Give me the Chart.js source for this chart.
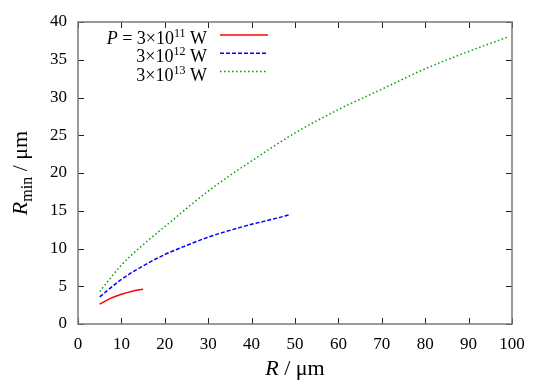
<!DOCTYPE html>
<html>
<head>
<meta charset="utf-8">
<script src="https://cdn.jsdelivr.net/npm/chart.js@4.4.0/dist/chart.umd.min.js"></script>
<style>
    html, body { margin: 0; padding: 0; background: #fff; }
</style>
</head>
<body>
<canvas id="chart" width="545" height="382"></canvas>
<script>
// R (µm) vs R_min (µm) for three laser powers
const rRed = [5, 7.5, 10, 12.5, 15];
const rminRed = [2.65, 3.4, 3.95, 4.35, 4.6];
const rBlue = [5, 10, 15, 20, 25, 30, 35, 40, 45, 49];
const rminBlue = [3.6, 5.9, 7.7, 9.2, 10.4, 11.5, 12.4, 13.2, 13.9, 14.5];
const rGreen = [5, 10, 15, 20, 30, 40, 50, 60, 70, 80, 90, 99];
const rminGreen = [4.3, 7.8, 10.5, 12.9, 17.6, 21.6, 25.3, 28.4, 31.1, 33.8, 36.1, 38.0];
const powerExponents = ['11', '12', '13'];
const xTickValues = [0, 10, 20, 30, 40, 50, 60, 70, 80, 90, 100];
const yTickValues = [0, 5, 10, 15, 20, 25, 30, 35, 40];

const SERIF = '"Liberation Serif", "DejaVu Serif", serif';

function toPoints(xs, ys) {
    return xs.map((x, i) => ({ x: x, y: ys[i] }));
}

function drawRich(ctx, parts, x, y, align) {
    let total = 0;
    parts.forEach(p => {
        ctx.font = p.font;
        p.w = ctx.measureText(p.text).width;
        total += p.w;
    });
    let cx = align === 'right' ? x - total : (align === 'center' ? x - total / 2 : x);
    parts.forEach(p => {
        ctx.font = p.font;
        ctx.fillText(p.text, cx, y + (p.dy || 0));
        cx += p.w;
    });
}

// frame with inward ticks on all four sides, axis titles, legend
const decorPlugin = {
    id: 'decor',
    afterDatasetsDraw(chart) {
        const ctx = chart.ctx;
        const area = chart.chartArea;
        const xs = chart.scales.x;
        const ys = chart.scales.y;
        const tickLen = 6;

        ctx.save();
        ctx.strokeStyle = '#222';
        ctx.lineWidth = 1;
        ctx.beginPath();
        xTickValues.forEach(v => {
            const px = Math.round(xs.getPixelForValue(v)) + 0.5;
            ctx.moveTo(px, area.bottom);
            ctx.lineTo(px, area.bottom - tickLen);
            ctx.moveTo(px, area.top);
            ctx.lineTo(px, area.top + tickLen);
        });
        yTickValues.forEach(v => {
            const py = Math.round(ys.getPixelForValue(v)) + 0.5;
            ctx.moveTo(area.left, py);
            ctx.lineTo(area.left + tickLen, py);
            ctx.moveTo(area.right, py);
            ctx.lineTo(area.right - tickLen, py);
        });
        ctx.stroke();

        ctx.strokeStyle = '#7a7a7a';
        ctx.lineWidth = 1.5;
        ctx.strokeRect(area.left, area.top, area.right - area.left, area.bottom - area.top);

        // axis titles
        ctx.fillStyle = '#000';
        ctx.textBaseline = 'alphabetic';
        drawRich(ctx, [
            { text: 'R', font: 'italic 22px ' + SERIF },
            { text: ' / μm', font: '22px ' + SERIF }
        ], (area.left + area.right) / 2, 375, 'center');

        ctx.save();
        ctx.translate(27, (area.top + area.bottom) / 2);
        ctx.rotate(-Math.PI / 2);
        drawRich(ctx, [
            { text: 'R', font: 'italic 22px ' + SERIF },
            { text: 'min', font: '16px ' + SERIF, dy: 5 },
            { text: ' / μm', font: '22px ' + SERIF }
        ], 0, 0, 'center');
        ctx.restore();

        // legend
        const textRight = 207;
        const lineX0 = 220;
        const lineX1 = 268;
        chart.data.datasets.forEach((ds, i) => {
            const base = 44 + i * 18.3;
            const parts = [];
            if (i === 0) {
                parts.push({ text: 'P', font: 'italic 18px ' + SERIF });
                parts.push({ text: ' = ', font: '18px ' + SERIF });
            }
            parts.push({ text: '3×10', font: '18px ' + SERIF });
            parts.push({ text: powerExponents[i], font: '12px ' + SERIF, dy: -7 });
            parts.push({ text: ' W', font: '18px ' + SERIF });
            ctx.fillStyle = '#000';
            drawRich(ctx, parts, textRight, base, 'right');

            ctx.strokeStyle = ds.borderColor;
            ctx.lineWidth = ds.borderWidth;
            ctx.setLineDash(ds.borderDash || []);
            ctx.beginPath();
            ctx.moveTo(lineX0, base - 9);
            ctx.lineTo(lineX1, base - 9);
            ctx.stroke();
            ctx.setLineDash([]);
        });
        ctx.restore();
    }
};

const ctx = document.getElementById('chart').getContext('2d');
new Chart(ctx, {
    type: 'scatter',
    data: {
        datasets: [
            {
                label: 'P = 3×10^11 W',
                data: toPoints(rRed, rminRed),
                borderColor: '#ff0000',
                borderWidth: 1.5,
                showLine: true,
                pointRadius: 0,
                cubicInterpolationMode: 'monotone'
            },
            {
                label: '3×10^12 W',
                data: toPoints(rBlue, rminBlue),
                borderColor: '#0000ff',
                borderWidth: 1.5,
                borderDash: [4, 2],
                showLine: true,
                pointRadius: 0,
                cubicInterpolationMode: 'monotone'
            },
            {
                label: '3×10^13 W',
                data: toPoints(rGreen, rminGreen),
                borderColor: '#00a000',
                borderWidth: 1.5,
                borderDash: [1.5, 2.5],
                showLine: true,
                pointRadius: 0,
                cubicInterpolationMode: 'monotone'
            }
        ]
    },
    options: {
        responsive: false,
        animation: false,
        devicePixelRatio: 1,
        layout: {
            autoPadding: false,
            padding: { left: 0, right: 33, top: 22, bottom: 0 }
        },
        plugins: {
            legend: { display: false },
            tooltip: { enabled: false }
        },
        scales: {
            x: {
                type: 'linear',
                min: 0,
                max: 100,
                afterBuildTicks: scale => { scale.ticks = xTickValues.map(v => ({ value: v })); },
                afterFit: scale => { scale.height = 58; },
                grid: { display: false, drawTicks: false },
                border: { display: false },
                ticks: {
                    color: '#000',
                    padding: 10,
                    maxRotation: 0,
                    font: { family: SERIF, size: 17 }
                }
            },
            y: {
                type: 'linear',
                min: 0,
                max: 40,
                afterBuildTicks: scale => { scale.ticks = yTickValues.map(v => ({ value: v })); },
                afterFit: scale => { scale.width = 78; },
                grid: { display: false, drawTicks: false },
                border: { display: false },
                ticks: {
                    color: '#000',
                    padding: 11,
                    font: { family: SERIF, size: 17 }
                }
            }
        }
    },
    plugins: [decorPlugin]
});
</script>
</body>
</html>
